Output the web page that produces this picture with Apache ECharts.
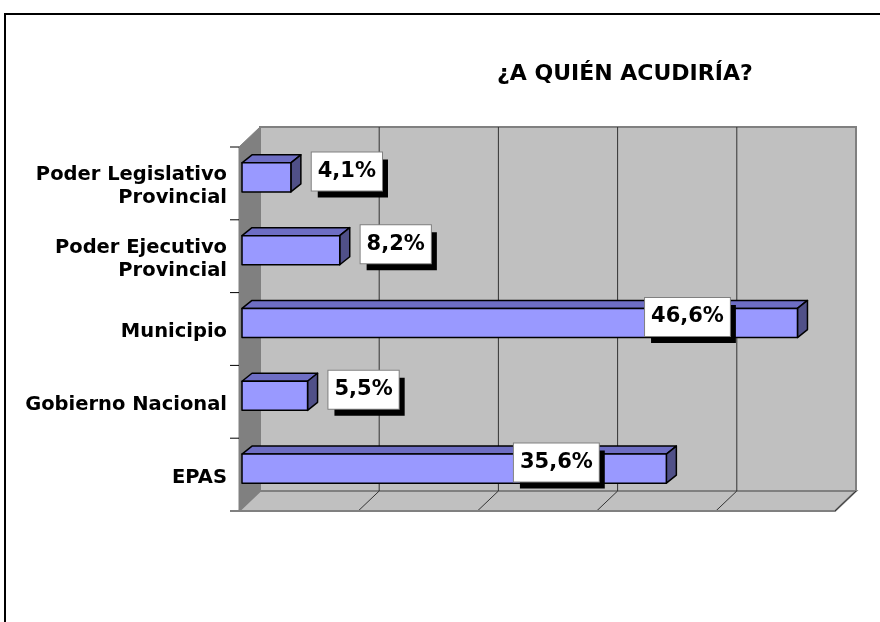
<!DOCTYPE html>
<html>
<head>
<meta charset="utf-8">
<script src="https://cdn.jsdelivr.net/npm/echarts@6/dist/echarts.min.js"></script>
<style>html,body{margin:0;padding:0;background:#fff}#main{width:880px;height:622px}</style>
</head>
<body>
<div id="main"></div>
<script>
var categories = ['Poder Legislativo\nProvincial', 'Poder Ejecutivo\nProvincial', 'Municipio', 'Gobierno Nacional', 'EPAS'];
var values = [4.1, 8.2, 46.6, 5.5, 35.6];
var valueLabels = ['4,1%', '8,2%', '46,6%', '5,5%', '35,6%'];
var gridValues = [10, 20, 30, 40, 50];

var myChart = echarts.init(document.getElementById('main'));

var DX = 21, DY = -20;   // wall depth
var SX = -3, SY = 6;     // front plane vs bars
var BDX = 10, BDY = -8;  // bar depth
var FONT = 'DejaVu Sans';

function renderWalls(params, api) {
    var cs = params.coordSys;
    var l = cs.x + SX, t = cs.y + SY, r = cs.x + cs.width + SX, b = cs.y + cs.height + SY;
    var kids = [];
    kids.push({type: 'rect', shape: {x: l + DX, y: t + DY, width: r - l, height: b - t},
        style: {fill: '#c0c0c0', stroke: '#808080', lineWidth: 2}});
    kids.push({type: 'polygon', shape: {points: [[l, t], [l + DX, t + DY], [l + DX, b + DY], [l, b]]},
        style: {fill: '#808080', stroke: '#808080', lineWidth: 1}});
    kids.push({type: 'polygon', shape: {points: [[l, b], [l + DX, b + DY], [r + DX, b + DY], [r, b]]},
        style: {fill: '#c0c0c0', stroke: '#808080', lineWidth: 2}});
    gridValues.forEach(function (v) {
        var x = api.coord([v, 0])[0] + SX;
        if (v < 50) {
            kids.push({type: 'line', shape: {x1: x + DX, y1: t + DY, x2: x + DX, y2: b + DY},
                style: {stroke: '#333', lineWidth: 1}});
        }
        kids.push({type: 'line', shape: {x1: x + DX, y1: b + DY, x2: x, y2: b},
            style: {stroke: '#333', lineWidth: 1}});
    });
    var band = api.size([0, 1])[1];
    for (var i = 0; i <= categories.length; i++) {
        var y = api.coord([0, 0])[1] - band / 2 + i * band + SY;
        kids.push({type: 'line', shape: {x1: l - 9, y1: y, x2: l, y2: y},
            style: {stroke: '#000', lineWidth: 1}});
    }
    kids.push({type: 'line', shape: {x1: l - 9, y1: b, x2: r, y2: b}, style: {stroke: '#808080', lineWidth: 2}});
    return {type: 'group', children: kids};
}

function renderBar(params, api) {
    var val = api.value(0), cat = api.value(1);
    var p0 = api.coord([0, cat]), p1 = api.coord([val, cat]);
    var h = api.size([0, 1])[1] * 0.4;
    var x0 = p0[0], x1 = p1[0], yT = p0[1] - h / 2, yB = p0[1] + h / 2;
    var edge = {stroke: '#000', lineWidth: 1.5, lineJoin: 'round'};
    var lbl = valueLabels[params.dataIndex];
    var cx = val < 20 ? x1 + 56 : x1 - 110;
    var cy = p0[1] - 6;
    var txt = {text: lbl, font: 'bold 21px "' + FONT + '"', align: 'center', verticalAlign: 'middle',
        padding: [9, 6, 8, 6]};
    return {type: 'group', children: [
        {type: 'polygon', shape: {points: [[x0, yT], [x0 + BDX, yT + BDY], [x1 + BDX, yT + BDY], [x1, yT]]},
            style: echarts.util.extend({fill: '#6e6ec4'}, edge)},
        {type: 'polygon', shape: {points: [[x1, yT], [x1 + BDX, yT + BDY], [x1 + BDX, yB + BDY], [x1, yB]]},
            style: echarts.util.extend({fill: '#505088'}, edge)},
        {type: 'rect', shape: {x: x0, y: yT, width: x1 - x0, height: h},
            style: echarts.util.extend({fill: '#9999ff'}, edge)},
        {type: 'text', x: cx + 6, y: cy + 7,
            style: echarts.util.extend({fill: 'rgba(0,0,0,0)', backgroundColor: '#000'}, txt)},
        {type: 'text', x: cx, y: cy,
            style: echarts.util.extend({fill: '#000', backgroundColor: '#fff', borderColor: '#808080', borderWidth: 1}, txt)}
    ]};
}

option = {
    backgroundColor: '#fff',
    animation: false,
    title: {
        text: '¿A QUIÉN ACUDIRÍA?',
        left: 492,
        top: 58,
        textStyle: {fontFamily: FONT, fontWeight: 'bold', fontSize: 22, color: '#000'}
    },
    graphic: [{
        type: 'rect', shape: {x: 5, y: 14, width: 900, height: 700},
        style: {fill: 'none', stroke: '#000', lineWidth: 2}, z: 100
    }],
    grid: {left: 242, right: 42, top: 141, bottom: 117},
    xAxis: {type: 'value', min: 0, max: 50, interval: 10, show: false},
    yAxis: {
        type: 'category',
        data: categories,
        inverse: true,
        axisLine: {show: false},
        axisTick: {show: false},
        axisLabel: {
            margin: 15, color: '#000', fontFamily: FONT, fontWeight: 'bold', fontSize: 19.5,
            lineHeight: 23,
            formatter: function (v) { return '{gap|}\n' + v; },
            rich: {gap: {height: 18, lineHeight: 18}}
        }
    },
    series: [{
        type: 'custom',
        renderItem: renderWalls,
        data: [[0, 0]],
        z: 1
    }, {
        type: 'custom',
        renderItem: renderBar,
        encode: {x: 0, y: 1},
        data: values.map(function (v, i) { return [v, i]; }),
        z: 2
    }]
};

myChart.setOption(option);
</script>
</body>
</html>
